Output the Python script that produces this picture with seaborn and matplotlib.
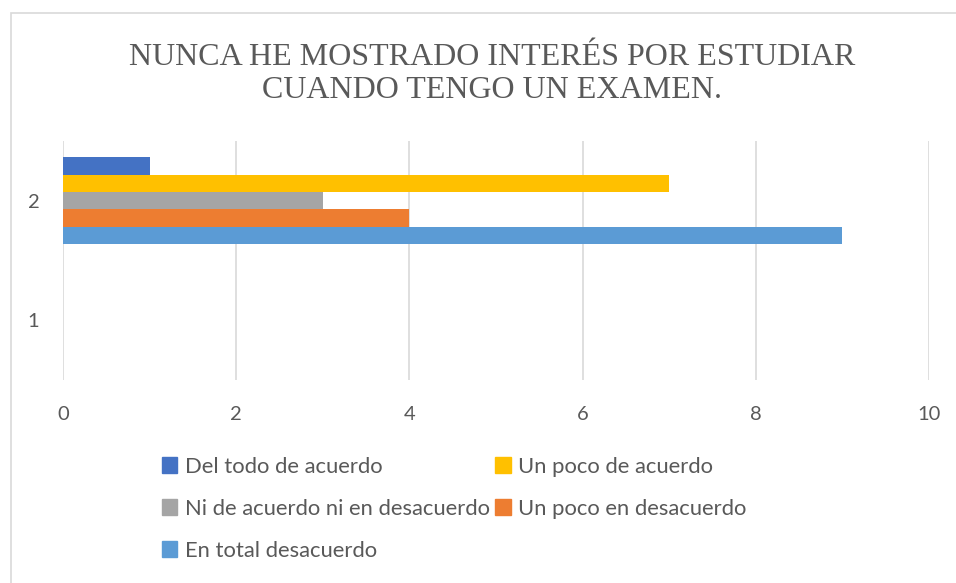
import pandas as pd
import numpy as np
import matplotlib.pyplot as plt
import matplotlib.patches as mpatches
import seaborn as sns

# data
categories = ['2', '1']
responses = ['Del todo de acuerdo', 'Un poco de acuerdo', 'Ni de acuerdo ni en desacuerdo',
             'Un poco en desacuerdo', 'En total desacuerdo']
counts = [1, 7, 3, 4, 9]
colors = ['#4472C4', '#FFC000', '#A5A5A5', '#ED7D31', '#5B9BD5']
title = 'NUNCA HE MOSTRADO INTERÉS POR ESTUDIAR\nCUANDO TENGO UN EXAMEN.'

df = pd.DataFrame({'grupo': ['2'] * len(responses), 'respuesta': responses, 'n': counts})

sns.set_theme(style='white')
plt.rcParams['font.family'] = ['Lato', 'DejaVu Sans']

W, H = 956, 583
fig = plt.figure(figsize=(W / 100, H / 100), dpi=100)

# chart frame (continues past the right/bottom edge like the reference)
fig.patches.append(mpatches.Rectangle((11 / W, -0.1), 1.2, 1 - 13 / H + 0.1, transform=fig.transFigure,
                                      fill=False, edgecolor='#D9D9D9', linewidth=1.2))

ax = fig.add_axes([63 / W, 1 - 380 / H, (929 - 63) / W, (380 - 141) / H])
sns.barplot(data=df, x='n', y='grupo', hue='respuesta', order=categories, hue_order=responses,
            palette=colors, orient='h', width=0.73, saturation=1, linewidth=0, ax=ax, legend=False)

ax.set_xlim(0, 10)
ax.set_ylim(1.5, -0.5)
ax.set_xticks(np.arange(0, 11, 2))
ax.xaxis.grid(True, color='#D9D9D9', linewidth=1.2)
ax.set_axisbelow(True)
for s in ax.spines.values():
    s.set_visible(False)
ax.set_xlabel('')
ax.set_ylabel('')
ax.tick_params(axis='x', length=0, pad=19, labelsize=14.5, labelcolor='#595959')
ax.tick_params(axis='y', length=0, pad=17, labelsize=14.5, labelcolor='#595959')

fig.text(492 / W, 1 - 74 / H, title, ha='center', va='center', fontsize=23,
         family='Liberation Serif', color='#595959', linespacing=1.18)

# legend, row-wise in two columns
handles = [mpatches.Patch(color=c, label=r) for r, c in zip(responses, colors)]
idx = [0, 2, 4, 1, 3]
fig.legend([handles[i] for i in idx], [responses[i] for i in idx], ncol=2,
           loc='upper left', bbox_to_anchor=(142 / W, 1 - 437 / H), frameon=False,
           fontsize=15.8, labelcolor='#595959', handlelength=0.7, handleheight=0.7,
           handletextpad=0.35, columnspacing=0.25, labelspacing=1.0)

fig.savefig('out.png', dpi=100)
